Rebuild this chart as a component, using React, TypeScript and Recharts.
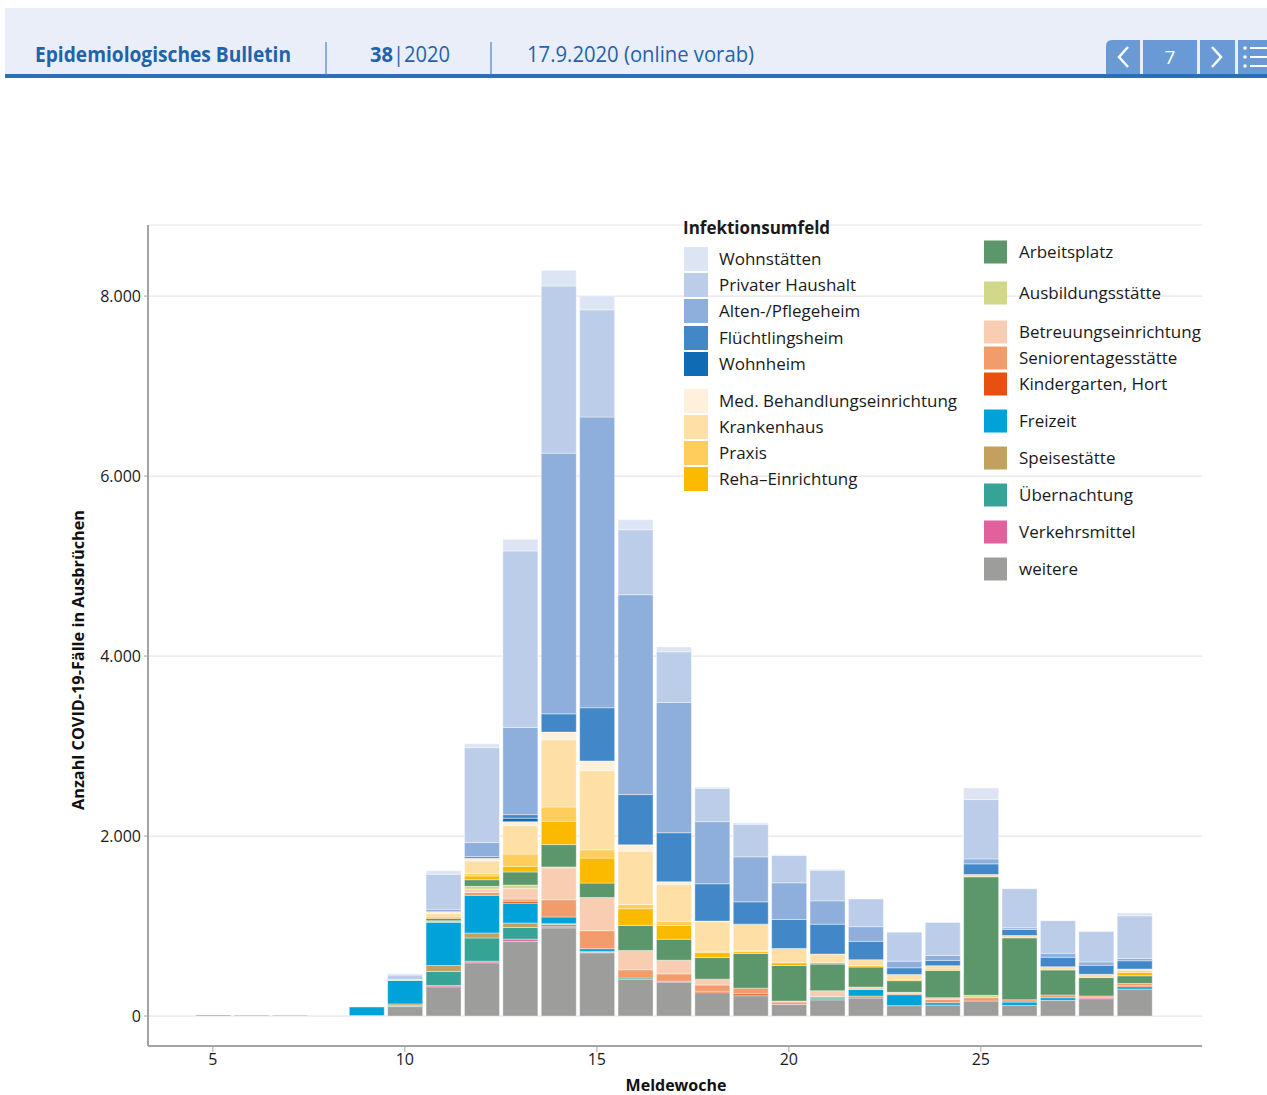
import { Bar, BarChart, CartesianGrid, XAxis, YAxis } from 'recharts';

// Meldewochen 5 bis 29
const weeks = [5, 6, 7, 8, 9, 10, 11, 12, 13, 14, 15, 16, 17, 18, 19, 20, 21, 22, 23, 24, 25, 26, 27, 28, 29];

// Werte je Infektionsumfeld (von unten nach oben gestapelt)
const weitere = [12, 10, 8, 0, 5, 105, 325, 592, 830, 980, 703, 407, 377, 260, 225, 130, 180, 200, 115, 122, 167, 118, 174, 193, 300];
const verkehrsmittel = [0, 0, 0, 0, 0, 0, 15, 17, 24, 19, 5, 0, 0, 0, 0, 0, 0, 0, 0, 0, 0, 0, 0, 15, 0];
const uebernachtung = [0, 0, 0, 0, 0, 10, 155, 259, 130, 17, 10, 15, 10, 0, 0, 0, 19, 0, 0, 0, 0, 0, 0, 0, 0];
const speisestaette = [0, 0, 0, 0, 0, 20, 67, 55, 50, 10, 0, 0, 0, 0, 0, 0, 0, 22, 0, 0, 0, 0, 0, 0, 0];
const freizeit = [0, 0, 0, 0, 95, 260, 480, 418, 220, 74, 30, 0, 0, 0, 0, 0, 0, 74, 122, 26, 0, 37, 30, 0, 26];
const kindergarten = [0, 0, 0, 0, 0, 0, 0, 0, 22, 0, 0, 0, 0, 15, 22, 0, 0, 0, 0, 0, 0, 0, 0, 0, 10];
const seniorentagesstaette = [0, 0, 0, 0, 0, 0, 0, 33, 25, 192, 200, 92, 81, 70, 63, 26, 19, 0, 13, 37, 37, 26, 30, 15, 26];
const betreuung = [0, 0, 0, 0, 0, 0, 0, 37, 115, 355, 370, 215, 152, 65, 0, 0, 63, 26, 13, 19, 0, 0, 0, 0, 0];
const ausbildung = [0, 0, 0, 0, 0, 10, 17, 30, 40, 10, 0, 0, 0, 0, 0, 10, 0, 0, 0, 0, 26, 0, 0, 0, 0];
const arbeitsplatz = [0, 0, 0, 0, 0, 0, 26, 74, 145, 248, 159, 278, 233, 240, 385, 396, 296, 222, 130, 303, 1317, 688, 278, 204, 85];
const reha = [0, 0, 0, 0, 0, 0, 15, 41, 63, 259, 278, 185, 155, 55, 20, 30, 19, 15, 10, 0, 0, 0, 0, 0, 37];
const praxis = [0, 0, 0, 0, 0, 0, 0, 26, 137, 159, 92, 48, 44, 15, 10, 0, 0, 0, 0, 15, 0, 0, 0, 0, 19];
const krankenhaus = [0, 0, 0, 0, 0, 0, 40, 141, 315, 747, 880, 592, 411, 325, 296, 159, 92, 67, 59, 37, 26, 26, 37, 37, 19];
const medBehandlung = [0, 0, 0, 0, 0, 0, 20, 30, 44, 85, 107, 70, 30, 10, 0, 0, 0, 0, 0, 0, 0, 0, 0, 0, 0];
const wohnheim = [0, 0, 0, 0, 0, 0, 0, 0, 39, 0, 0, 0, 0, 0, 0, 0, 0, 0, 0, 0, 0, 0, 0, 0, 0];
const fluechtlingsheim = [0, 0, 0, 0, 0, 0, 0, 19, 39, 203, 592, 559, 544, 415, 248, 322, 333, 204, 74, 59, 118, 67, 104, 100, 92];
const altenheim = [0, 0, 0, 0, 0, 0, 26, 155, 969, 2897, 3230, 2220, 1447, 690, 500, 407, 259, 163, 74, 55, 55, 19, 44, 37, 26];
const privaterHaushalt = [0, 0, 0, 0, 0, 50, 390, 1055, 1961, 1857, 1191, 722, 563, 370, 363, 303, 341, 307, 322, 366, 659, 433, 363, 337, 474];
const wohnstaetten = [0, 0, 0, 0, 0, 15, 37, 44, 129, 174, 155, 111, 55, 15, 15, 10, 10, 0, 0, 0, 130, 0, 0, 0, 30];

const xTicks = [5, 10, 15, 20, 25];
const yTicks = [0, 2000, 4000, 6000, 8000];

const series = [
  { key: 'weitere', name: 'weitere', color: '#9d9d9c', values: weitere },
  { key: 'verkehrsmittel', name: 'Verkehrsmittel', color: '#e2609c', values: verkehrsmittel },
  { key: 'uebernachtung', name: 'Übernachtung', color: '#35a497', values: uebernachtung },
  { key: 'speisestaette', name: 'Speisestätte', color: '#c4a05f', values: speisestaette },
  { key: 'freizeit', name: 'Freizeit', color: '#00a2da', values: freizeit },
  { key: 'kindergarten', name: 'Kindergarten, Hort', color: '#e8500f', values: kindergarten },
  { key: 'seniorentagesstaette', name: 'Seniorentagesstätte', color: '#f29b6b', values: seniorentagesstaette },
  { key: 'betreuung', name: 'Betreuungseinrichtung', color: '#f9cdb2', values: betreuung },
  { key: 'ausbildung', name: 'Ausbildungsstätte', color: '#d2d88a', values: ausbildung },
  { key: 'arbeitsplatz', name: 'Arbeitsplatz', color: '#5c976b', values: arbeitsplatz },
  { key: 'reha', name: 'Reha–Einrichtung', color: '#fbb900', values: reha },
  { key: 'praxis', name: 'Praxis', color: '#fecd5c', values: praxis },
  { key: 'krankenhaus', name: 'Krankenhaus', color: '#fee0a7', values: krankenhaus },
  { key: 'medBehandlung', name: 'Med. Behandlungseinrichtung', color: '#fef0da', values: medBehandlung },
  { key: 'wohnheim', name: 'Wohnheim', color: '#0f6bb4', values: wohnheim },
  { key: 'fluechtlingsheim', name: 'Flüchtlingsheim', color: '#4288c8', values: fluechtlingsheim },
  { key: 'altenheim', name: 'Alten-/Pflegeheim', color: '#8eaedb', values: altenheim },
  { key: 'privaterHaushalt', name: 'Privater Haushalt', color: '#bccde9', values: privaterHaushalt },
  { key: 'wohnstaetten', name: 'Wohnstätten', color: '#dde5f4', values: wohnstaetten },
];

const data = weeks.map((week, i) => {
  const row: Record<string, number> = { week };
  series.forEach((s) => {
    row[s.key] = s.values[i];
  });
  return row;
});

const colorOf = (key: string) => series.find((s) => s.key === key)!;

// Legende: [Schlüssel, Mitte y]
const legendLeft: [string, number][] = [
  ['wohnstaetten', 259],
  ['privaterHaushalt', 285],
  ['altenheim', 311],
  ['fluechtlingsheim', 338],
  ['wohnheim', 364],
  ['medBehandlung', 401],
  ['krankenhaus', 427],
  ['praxis', 453],
  ['reha', 479],
];
const legendRight: [string, number][] = [
  ['arbeitsplatz', 252],
  ['ausbildung', 293],
  ['betreuung', 332],
  ['seniorentagesstaette', 358],
  ['kindergarten', 384],
  ['freizeit', 421],
  ['speisestaette', 458],
  ['uebernachtung', 495],
  ['verkehrsmittel', 532],
  ['weitere', 569],
];

const FONT = "'Open Sans', 'Noto Sans', sans-serif";
const HEADER_BLUE = '#1f63ac';
const NAV_BLUE = '#6a9ad6';

const formatThousands = (v: number) => String(v).replace(/\B(?=(\d{3})+(?!\d))/g, '.');

const Header = () => (
  <g>
    <rect x={5} y={8} width={1262} height={68} fill="#e9eef8" />
    <rect x={5} y={74} width={1262} height={4} fill="#2c6fb4" />
    <line x1={326} y1={42} x2={326} y2={75} stroke="#4d82c2" strokeWidth={1.2} />
    <line x1={491} y1={42} x2={491} y2={75} stroke="#4d82c2" strokeWidth={1.2} />
    <text x={35} y={62} fontSize={21} fontWeight={700} fill={HEADER_BLUE} textLength={256} lengthAdjust="spacingAndGlyphs">
      Epidemiologisches Bulletin
    </text>
    <text x={370} y={62} fontSize={21} fill={HEADER_BLUE} textLength={80} lengthAdjust="spacingAndGlyphs">
      <tspan fontWeight={700}>38</tspan>|2020
    </text>
    <text x={527} y={62} fontSize={21} fill={HEADER_BLUE} textLength={227} lengthAdjust="spacingAndGlyphs">
      17.9.2020 (online vorab)
    </text>
    <path d="M1106,74 L1106,46 Q1106,40 1112,40 L1140,40 L1140,74 Z" fill={NAV_BLUE} />
    <rect x={1143} y={40} width={54} height={34} fill={NAV_BLUE} />
    <rect x={1200} y={40} width={35} height={34} fill={NAV_BLUE} />
    <rect x={1238} y={40} width={29} height={34} fill={NAV_BLUE} />
    <polyline points="1128,47 1119,57 1128,67" fill="none" stroke="#fff" strokeWidth={2.5} />
    <polyline points="1212,47 1221,57 1212,67" fill="none" stroke="#fff" strokeWidth={2.5} />
    <text x={1170} y={64} fontSize={19} fill="#fff" textAnchor="middle">7</text>
    {[48, 57, 66].map((y) => (
      <g key={y}>
        <circle cx={1245} cy={y} r={1.8} fill="#fff" />
        <line x1={1250} y1={y} x2={1267} y2={y} stroke="#fff" strokeWidth={2} />
      </g>
    ))}
  </g>
);

const LegendItem = ({ k, x, cy, size }: { k: string; x: number; cy: number; size: number }) => {
  const s = colorOf(k);
  return (
    <g>
      <rect x={x} y={cy - size / 2} width={size} height={size} fill={s.color} />
      <text x={x + 35} y={cy + 6} fontSize={17} fill="#1a1a1a">
        {s.name}
      </text>
    </g>
  );
};

export default function App() {
  return (
    <div style={{ position: 'absolute', top: 0, left: 0, width: 1267, height: 1095, background: '#fff', fontFamily: FONT }}>
      <div style={{ position: 'absolute', top: 0, left: 0 }}>
        <BarChart
          width={1267}
          height={1095}
          data={data}
          margin={{ top: 225, right: 65, bottom: 19, left: 88 }}
          barSize={35}
        >
          <CartesianGrid vertical={false} stroke="#e6e6e6" strokeWidth={1.2} />
          <XAxis
            dataKey="week"
            type="number"
            domain={[3.31, 30.76]}
            allowDataOverflow
            ticks={xTicks}
            height={30}
            axisLine={{ stroke: '#a3a3a3', strokeWidth: 2 }}
            tickLine={{ stroke: '#a3a3a3' }}
            tickSize={6}
            tickMargin={2}
            tick={{ fill: '#1a1a1a', fontSize: 16, fontFamily: FONT }}
          />
          <YAxis
            type="number"
            domain={[-333, 8790]}
            allowDataOverflow
            ticks={yTicks}
            width={60}
            axisLine={{ stroke: '#a3a3a3', strokeWidth: 2 }}
            tickLine={{ stroke: '#a3a3a3' }}
            tickSize={4}
            tickMargin={3}
            tickFormatter={formatThousands}
            tick={{ fill: '#1a1a1a', fontSize: 16, fontFamily: FONT }}
          />
          {series.map((s) => (
            <Bar
              key={s.key}
              dataKey={s.key}
              name={s.name}
              stackId="a"
              fill={s.color}
              stroke="#ffffff"
              strokeWidth={0.4}
              isAnimationActive={false}
            />
          ))}
        </BarChart>
      </div>
      <svg
        width={1267}
        height={1095}
        style={{ position: 'absolute', top: 0, left: 0, pointerEvents: 'none', fontFamily: FONT }}
      >
        <Header />
        <text x={683} y={234} fontSize={17} fontWeight={700} fill="#1a1a1a">
          Infektionsumfeld
        </text>
        {legendLeft.map(([k, cy]) => (
          <LegendItem key={k} k={k} x={684} cy={cy} size={24} />
        ))}
        {legendRight.map(([k, cy]) => (
          <LegendItem key={k} k={k} x={984} cy={cy} size={23} />
        ))}
        <text
          x={0}
          y={0}
          transform="translate(84,660) rotate(-90)"
          textAnchor="middle"
          fontSize={16}
          fontWeight={700}
          fill="#111"
          textLength={300}
          lengthAdjust="spacingAndGlyphs"
        >
          Anzahl COVID-19-Fälle in Ausbrüchen
        </text>
        <text x={676} y={1091} textAnchor="middle" fontSize={16} fontWeight={700} fill="#111">
          Meldewoche
        </text>
      </svg>
    </div>
  );
}
